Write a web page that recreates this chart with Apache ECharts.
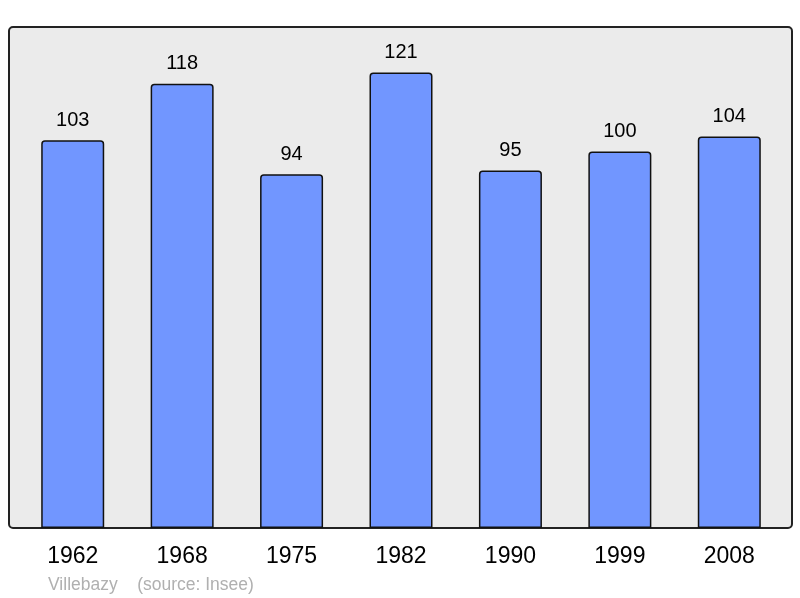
<!DOCTYPE html>
<html>
    <head>
        <meta charset="utf-8">
        <title>Villebazy</title>
        <script src="https://cdn.jsdelivr.net/npm/echarts@6/dist/echarts.min.js"></script>
    </head>
    <body style="margin:0">
        <div id="main" style="width:800px;height:598px;"></div>
        <script type="text/javascript">
            var years = ['1962', '1968', '1975', '1982', '1990', '1999', '2008'];
            var population = [103, 118, 94, 121, 95, 100, 104];

            var myChart = echarts.init(document.getElementById('main'));
            var option = {
                animation: false,
                textStyle: { fontFamily: 'Liberation Sans, Arial, sans-serif' },
                title: {
                    text: 'Villebazy    (source: Insee)',
                    left: 48,
                    top: 576,
                    padding: 0,
                    textStyle: { color: '#b0b0b0', fontSize: 17.5, fontWeight: 'normal' }
                },
                graphic: [{
                    type: 'rect',
                    z: -10,
                    shape: { x: 9, y: 27, width: 783, height: 501, r: 4 },
                    style: { fill: '#ebebeb', stroke: '#222', lineWidth: 2 }
                }],
                grid: { left: 18, right: 16, top: 27, bottom: 70 },
                xAxis: {
                    type: 'category',
                    data: years,
                    axisLine: { show: false },
                    axisTick: { show: false },
                    axisLabel: { color: '#000', fontSize: 23, margin: 17 }
                },
                yAxis: {
                    type: 'value',
                    min: 0,
                    max: 133.1,
                    show: false,
                    splitLine: { show: false }
                },
                series: [{
                    type: 'bar',
                    data: population,
                    barWidth: 63,
                    itemStyle: {
                        color: '#7196ff',
                        borderColor: '#111',
                        borderWidth: 1.5,
                        borderRadius: [3, 3, 0, 0]
                    },
                    label: {
                        show: true,
                        position: 'top',
                        distance: 10,
                        color: '#000',
                        fontSize: 20
                    }
                }]
            };
            myChart.setOption(option);
        </script>
    </body>
</html>
